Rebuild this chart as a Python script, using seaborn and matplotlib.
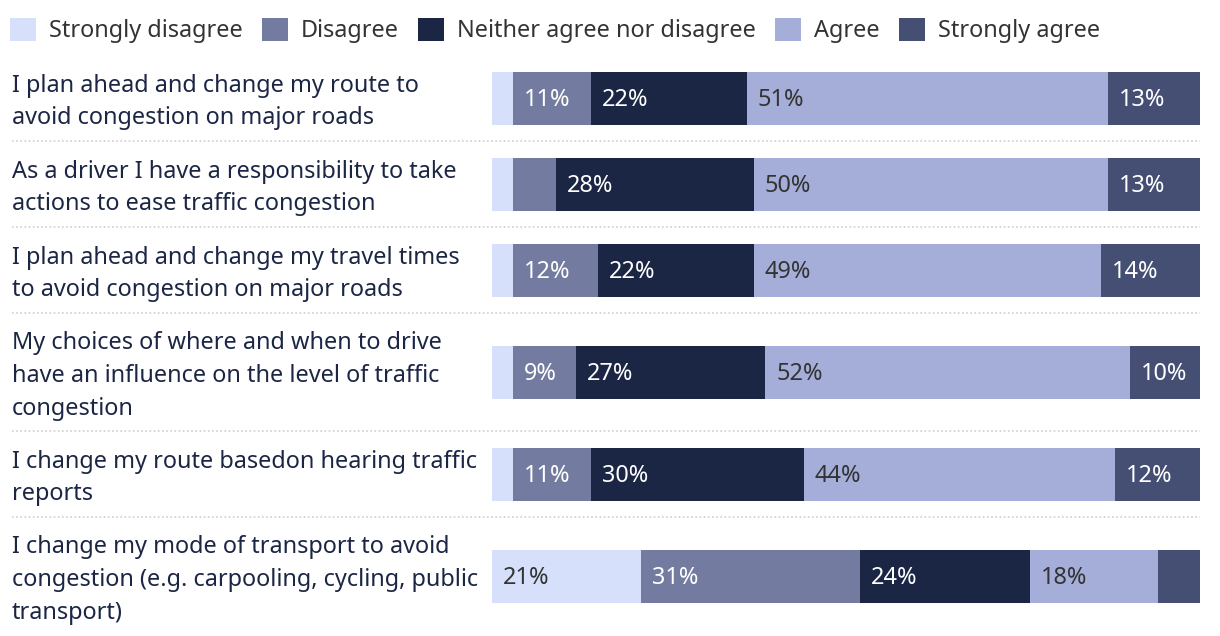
import numpy as np
import pandas as pd
import matplotlib.pyplot as plt
from matplotlib.patches import Patch
from matplotlib.transforms import blended_transform_factory
import seaborn as sns

# Survey statements (label text, wrapped as in the chart)
questions = [
    "I plan ahead and change my route to\navoid congestion on major roads",
    "As a driver I have a responsibility to take\nactions to ease traffic congestion",
    "I plan ahead and change my travel times\nto avoid congestion on major roads",
    "My choices of where and when to drive\nhave an influence on the level of traffic\ncongestion",
    "I change my route basedon hearing traffic\nreports",
    "I change my mode of transport to avoid\ncongestion (e.g. carpooling, cycling, public\ntransport)",
]
responses = ["Strongly disagree", "Disagree", "Neither agree nor disagree", "Agree", "Strongly agree"]

# percentages per response
strongly_disagree = [3, 3, 3, 3, 3, 21]
disagree = [11, 6, 12, 9, 11, 31]
neither = [22, 28, 22, 27, 30, 24]
agree = [51, 50, 49, 52, 44, 18]
strongly_agree = [13, 13, 14, 10, 12, 6]

colors = ["#d6e0fb", "#737ca0", "#1b2645", "#a5aed8", "#454f73"]
text_colors = ["#333333", "white", "white", "#333333", "white"]

sns.set_theme(style="white")
plt.rcParams["font.family"] = ["Noto Sans", "DejaVu Sans"]
FS = 16.9

df = pd.DataFrame(
    np.array([strongly_disagree, disagree, neither, agree, strongly_agree]).T,
    columns=responses,
)
df["question"] = questions
pct = df[responses].div(df[responses].sum(axis=1), axis=0) * 100
cum = pct.cumsum(axis=1)

#layout (pixel units, top down)
W, H = 1220, 636
top = 55
n_lines = np.array([q.count("\n") + 1 for q in questions])
row_h = 22 + 32 * n_lines
edges = top + np.concatenate([[0], np.cumsum(row_h)])
centers = edges[:-1] + row_h / 2
bar_h = 53
x0, x1 = 492, 1200

fig = plt.figure(figsize=(W / 100, H / 100), dpi=100)
ax = fig.add_axes([x0 / W, 0, (x1 - x0) / W, 1])

# stacked bars: draw cumulative layers from the full bar down
for i in range(len(responses) - 1, -1, -1):
    layer = pd.DataFrame({"value": cum.iloc[:, i].values, "pos": centers})
    sns.barplot(data=layer, x="value", y="pos", orient="y", native_scale=True,
                width=bar_h / np.diff(centers).min(), color=colors[i],
                saturation=1, linewidth=0, edgecolor="none", ax=ax)

ax.set_xlim(0, 100)
ax.set_ylim(H, 0)
ax.axis("off")

# value labels
px_per_pct = (x1 - x0) / 100
for r in range(len(questions)):
    for i, resp in enumerate(responses):
        v = df.loc[r, resp]
        if v < 8:
            continue
        left = cum.iloc[r, i] - pct.iloc[r, i]
        ax.text(left + 11 / px_per_pct, centers[r] + 2, f"{v}%", ha="left", va="center",
                color=text_colors[i], fontsize=FS)

# question labels and dotted separators
trans = blended_transform_factory(fig.transFigure, ax.transData)
for r, q in enumerate(questions):
    ax.text(12 / W, centers[r] + 4, q, transform=trans,
            ha="left", va="center", color="#1b2645", fontsize=FS, linespacing=1.5)
for y in edges[1:-1]:
    ax.axhline(y, xmin=(12 - x0) / (x1 - x0), xmax=1, color="#cfcfcf", lw=1.2,
               linestyle=(0, (1, 1.5)), clip_on=False)

# legend
handles = [Patch(facecolor=c, edgecolor="none", label=l) for c, l in zip(colors, responses)]
fig.legend(handles=handles, loc="upper left", bbox_to_anchor=(10 / W, 1 - 18 / H), ncol=5,
           frameon=False, fontsize=FS, handlelength=1.1, handleheight=1.1,
           handletextpad=0.55, columnspacing=0.83, borderpad=0, borderaxespad=0,
           labelcolor="#333333")

plt.savefig("out.png", dpi=100)
